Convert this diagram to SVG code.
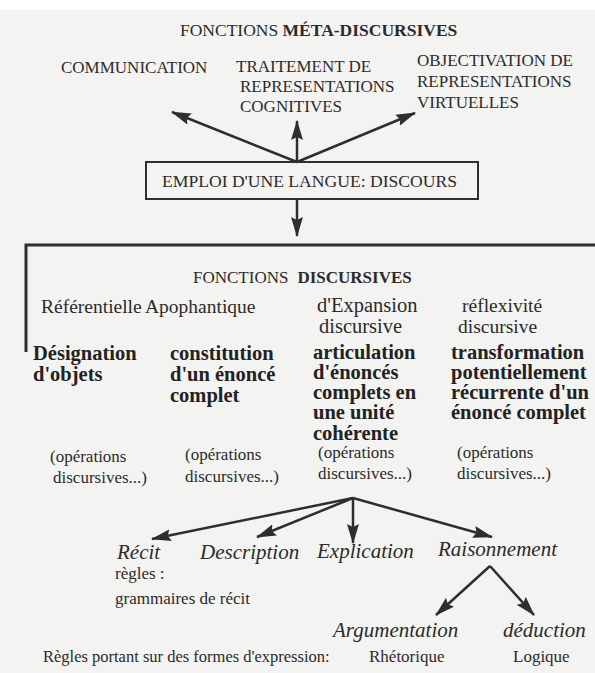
<svg xmlns="http://www.w3.org/2000/svg" width="595" height="673" viewBox="0 0 595 673">
<style>
text{font-family:"Liberation Serif","Times New Roman",serif;fill:#2b2b2b}
.cap{font-size:17px}
.reg{font-size:19.5px}
.bld{font-size:20.5px;font-weight:bold;fill:#222}
.sm{font-size:17px}
.it{font-size:21px;font-style:italic}
.b{font-weight:bold}
.ln{stroke:#2e2e2e;stroke-width:2.5;fill:none}
</style>
<defs>
<marker id="ah" viewBox="0 0 20 12" refX="19" refY="6" markerWidth="20" markerHeight="12" orient="auto" markerUnits="userSpaceOnUse">
<path d="M0,0 L20,6 L0,12 L3,6 z" fill="#2e2e2e"/>
</marker>
</defs>
<rect x="0" y="0" width="595" height="673" fill="#f3f3f1"/>
<rect x="0" y="0" width="595" height="10" fill="#ffffff"/>

<g id="title-meta"><text class="cap" x="180" y="36" style="font-size:17.5px">FONCTIONS <tspan class="b">MÉTA-DISCURSIVES</tspan></text></g>
<g id="communication"><text class="cap" x="61" y="73">COMMUNICATION</text></g>
<g id="traitement">
<text class="cap" x="236" y="72">TRAITEMENT DE</text>
<text class="cap" x="240" y="92">REPRESENTATIONS</text>
<text class="cap" x="240" y="112">COGNITIVES</text>
</g>
<g id="objectivation">
<text class="cap" x="417" y="66">OBJECTIVATION DE</text>
<text class="cap" x="417" y="87">REPRESENTATIONS</text>
<text class="cap" x="417" y="108">VIRTUELLES</text>
</g>
<g id="emploi">
<rect x="146" y="162" width="332" height="37" fill="none" stroke="#2e2e2e" stroke-width="2"/>
<text class="cap" x="162" y="187" style="font-size:17.6px">EMPLOI D'UNE LANGUE: DISCOURS</text>
</g>
<g id="fonctions-discursives">
<text class="cap" x="193" y="283">FONCTIONS<tspan class="b" dx="9">DISCURSIVES</tspan></text>
</g>
<g id="referentielle">
<text class="reg" x="41" y="313">Référentielle</text>
<text class="bld" x="33" y="360">Désignation</text>
<text class="bld" x="33" y="381">d'objets</text>
<text class="sm" x="50" y="462">(opérations</text>
<text class="sm" x="53" y="483">discursives...)</text>
</g>
<g id="apophantique">
<text class="reg" x="145" y="313">Apophantique</text>
<text class="bld" x="170" y="360">constitution</text>
<text class="bld" x="170" y="381">d'un énoncé</text>
<text class="bld" x="170" y="402">complet</text>
<text class="sm" x="185" y="460">(opérations</text>
<text class="sm" x="185" y="482">discursives...)</text>
</g>
<g id="expansion">
<text class="reg" x="317" y="312" style="font-size:20.5px">d'Expansion</text>
<text class="reg" x="319" y="333" style="font-size:20.5px">discursive</text>
<text class="bld" x="313" y="359">articulation</text>
<text class="bld" x="313" y="379">d'énoncés</text>
<text class="bld" x="313" y="399">complets en</text>
<text class="bld" x="313" y="419">une unité</text>
<text class="bld" x="313" y="440">cohérente</text>
<text class="sm" x="318" y="458">(opérations</text>
<text class="sm" x="318" y="479">discursives...)</text>
</g>
<g id="reflexivite">
<text class="reg" x="462" y="312">réflexivité</text>
<text class="reg" x="458" y="333">discursive</text>
<text class="bld" x="451" y="359">transformation</text>
<text class="bld" x="451" y="379">potentiellement</text>
<text class="bld" x="451" y="399">récurrente d'un</text>
<text class="bld" x="451" y="419">énoncé complet</text>
<text class="sm" x="457" y="458">(opérations</text>
<text class="sm" x="457" y="479">discursives...)</text>
</g>
<g id="recit">
<text class="it" x="117" y="559">Récit</text>
<text class="sm" x="115" y="579">règles :</text>
<text class="sm" x="115" y="604">grammaires de récit</text>
</g>
<g id="description"><text class="it" x="200" y="559">Description</text></g>
<g id="explication"><text class="it" x="317" y="558">Explication</text></g>
<g id="raisonnement"><text class="it" x="438" y="556">Raisonnement</text></g>
<g id="argumentation"><text class="it" x="333" y="637">Argumentation</text></g>
<g id="deduction"><text class="it" x="503" y="637">déduction</text></g>
<g id="regles">
<text class="sm" x="43" y="662" style="font-size:16.5px">Règles portant sur des formes d'expression:</text>
<text class="sm" x="369" y="662">Rhétorique</text>
<text class="sm" x="513" y="662">Logique</text>
</g>

<g id="connectors">
<line class="ln" x1="297" y1="162" x2="172" y2="112" marker-end="url(#ah)"/>
<line class="ln" x1="297" y1="162" x2="297" y2="121" marker-end="url(#ah)"/>
<line class="ln" x1="297" y1="162" x2="415" y2="113" marker-end="url(#ah)"/>
<line class="ln" x1="297" y1="199" x2="297" y2="236" marker-end="url(#ah)"/>
<polyline points="595,245 26,245 26,352" fill="none" stroke="#2e2e2e" stroke-width="3"/>
<line class="ln" x1="353" y1="498" x2="152" y2="539" marker-end="url(#ah)"/>
<line class="ln" x1="353" y1="498" x2="257" y2="537" marker-end="url(#ah)"/>
<line class="ln" x1="353" y1="498" x2="353" y2="543" marker-end="url(#ah)"/>
<line class="ln" x1="353" y1="498" x2="492" y2="537" marker-end="url(#ah)"/>
<line class="ln" x1="490" y1="566" x2="436" y2="615" marker-end="url(#ah)"/>
<line class="ln" x1="490" y1="566" x2="534" y2="615" marker-end="url(#ah)"/>
</g>
</svg>
